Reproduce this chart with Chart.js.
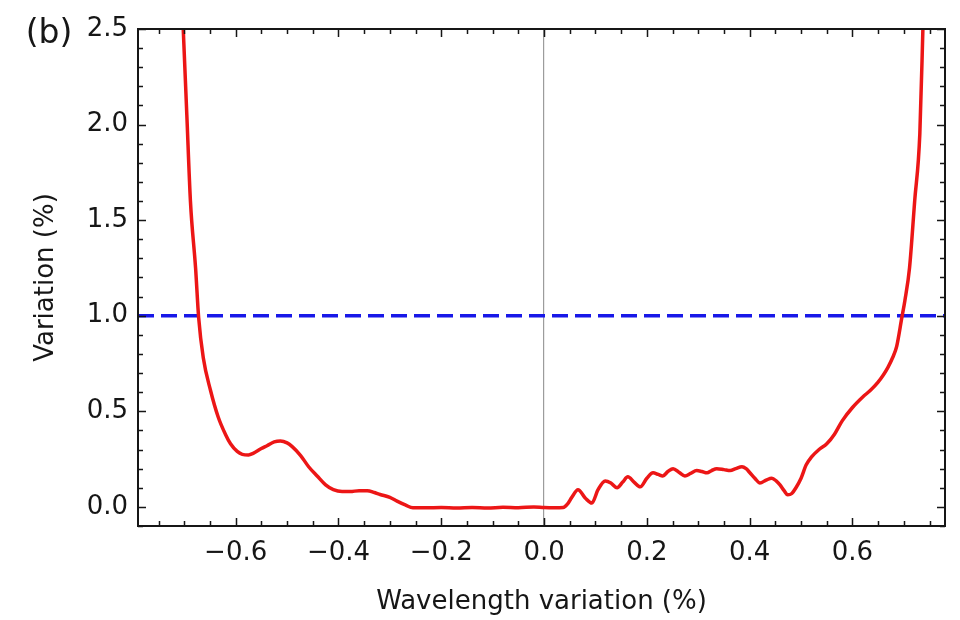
<!DOCTYPE html>
<html>
<head>
<meta charset="utf-8">
<script src="https://cdn.jsdelivr.net/npm/chart.js@4.4.1/dist/chart.umd.min.js"></script>
<style>
  html, body { margin: 0; padding: 0; background: #fff; }
  #wrap { width: 960px; height: 620px; position: relative; }
</style>
</head>
<body>
<div id="wrap"><canvas id="variationChart"></canvas></div>
<script>
// Panel (b): variation (%) against wavelength variation (%).

const waveX = [
  -0.710, -0.702, -0.695, -0.688, -0.678, -0.672, -0.663, -0.649, -0.634, -0.620,
  -0.610, -0.597, -0.587, -0.575, -0.566, -0.550, -0.539, -0.525, -0.513, -0.500,
  -0.490, -0.474, -0.458, -0.441, -0.425, -0.410, -0.393, -0.377, -0.360, -0.344,
  -0.330, -0.319, -0.300, -0.286, -0.270, -0.255, -0.230, -0.200, -0.170, -0.140,
  -0.110, -0.080, -0.050, -0.020, 0.000, 0.020, 0.037, 0.047, 0.054, 0.066,
  0.080, 0.093, 0.105, 0.119, 0.130, 0.142, 0.153, 0.163, 0.175, 0.187,
  0.200, 0.212, 0.222, 0.231, 0.241, 0.251, 0.263, 0.274, 0.285, 0.297,
  0.307, 0.317, 0.326, 0.336, 0.350, 0.362, 0.373, 0.385, 0.393, 0.400,
  0.410, 0.420, 0.432, 0.443, 0.452, 0.459, 0.467, 0.474, 0.482, 0.490,
  0.500, 0.510, 0.520, 0.535, 0.550, 0.565, 0.580, 0.600, 0.620, 0.635,
  0.649, 0.660, 0.669, 0.678, 0.686, 0.696, 0.702, 0.711, 0.721, 0.731,
  0.737, 0.742
];

const variationY = [
  3.00, 2.50, 2.05, 1.60, 1.25, 0.99, 0.78, 0.61, 0.47, 0.38,
  0.33, 0.29, 0.275, 0.272, 0.28, 0.305, 0.32, 0.34, 0.345, 0.335,
  0.315, 0.27, 0.21, 0.16, 0.115, 0.09, 0.08, 0.08, 0.085, 0.085,
  0.075, 0.065, 0.05, 0.03, 0.01, -0.005, -0.005, -0.003, -0.006, -0.003,
  -0.006, -0.002, -0.005, 0.000, -0.003, -0.004, -0.003, 0.02, 0.05, 0.09,
  0.047, 0.02, 0.09, 0.136, 0.125, 0.10, 0.13, 0.157, 0.13, 0.105,
  0.15, 0.178, 0.17, 0.162, 0.185, 0.20, 0.18, 0.162, 0.175, 0.19,
  0.185, 0.178, 0.19, 0.20, 0.195, 0.19, 0.20, 0.21, 0.20, 0.18,
  0.15, 0.125, 0.14, 0.15, 0.135, 0.115, 0.085, 0.063, 0.07, 0.10,
  0.15, 0.22, 0.26, 0.30, 0.33, 0.38, 0.45, 0.52, 0.575, 0.61,
  0.65, 0.69, 0.73, 0.78, 0.84, 0.99, 1.08, 1.25, 1.60, 1.95,
  2.50, 3.00
];

const thresholdY = 1.0;

const xTickValues = [-0.6, -0.4, -0.2, 0, 0.2, 0.4, 0.6];
const yTickValues = [0, 0.5, 1.0, 1.5, 2.0, 2.5];
const xRange = [-0.79, 0.78];
const yRange = [-0.1, 2.5];

const panelLabel = '(b)';
const xTitle = 'Wavelength variation (%)';
const yTitle = 'Variation (%)';

const FONT = "'DejaVu Sans', 'Liberation Sans', sans-serif";
const INK = '#161616';

function fmt(v) {
  const s = Number(v).toFixed(1);
  return s.charAt(0) === '-' ? '\u2212' + s.slice(1) : s;
}

// frame + inward ticks on all four sides, plus the panel letter
const frameTicks = {
  id: 'frameTicks',
  afterDatasetsDraw(chart) {
    const { ctx, chartArea: a, scales: { x, y } } = chart;
    ctx.save();
    ctx.strokeStyle = INK;
    ctx.lineWidth = 1.5;
    ctx.beginPath();
    for (let i = -16; i <= 16; i++) {
      const v = i * 0.05;
      if (v < xRange[0] || v > xRange[1]) continue;
      const px = Math.round(x.getPixelForValue(v)) + 0.5;
      const len = (i % 4 === 0) ? 8 : 5;
      ctx.moveTo(px, a.bottom); ctx.lineTo(px, a.bottom - len);
      ctx.moveTo(px, a.top); ctx.lineTo(px, a.top + len);
    }
    for (let i = -1; i <= 25; i++) {
      const v = i * 0.1;
      if (v < yRange[0] - 1e-9 || v > yRange[1] + 1e-9) continue;
      const py = Math.round(y.getPixelForValue(v)) + 0.5;
      const len = (i % 5 === 0) ? 8 : 5;
      ctx.moveTo(a.left, py); ctx.lineTo(a.left + len, py);
      ctx.moveTo(a.right, py); ctx.lineTo(a.right - len, py);
    }
    ctx.stroke();

    ctx.lineWidth = 2;
    ctx.strokeRect(a.left, a.top, a.right - a.left, a.bottom - a.top);
    ctx.restore();
  },
  afterDraw(chart) {
    const { ctx } = chart;
    ctx.save();
    ctx.fillStyle = INK;
    ctx.font = "33px " + FONT;
    ctx.textAlign = 'center';
    ctx.textBaseline = 'middle';
    ctx.fillText(panelLabel, 49, 34);
    ctx.restore();
  }
};

const ctx = document.getElementById('variationChart').getContext('2d');

new Chart(ctx, {
  type: 'line',
  data: {
    datasets: [
      {
        label: 'variation',
        data: waveX.map((v, i) => ({ x: v, y: variationY[i] })),
        borderColor: 'rgb(236, 22, 22)',
        borderWidth: 3.5,
        pointRadius: 0,
        cubicInterpolationMode: 'monotone',
        fill: false
      },
      {
        label: '1% level',
        data: [{ x: xRange[0], y: thresholdY }, { x: xRange[1], y: thresholdY }],
        borderColor: 'rgb(24, 24, 232)',
        borderWidth: 3.5,
        borderDash: [16, 7],
        pointRadius: 0,
        fill: false
      }
    ]
  },
  options: {
    responsive: true,
    maintainAspectRatio: false,
    devicePixelRatio: 1,
    animation: false,
    layout: { padding: { left: 0, right: 15, top: 29, bottom: 2 } },
    plugins: {
      legend: { display: false },
      tooltip: { enabled: false }
    },
    scales: {
      x: {
        type: 'linear',
        min: xRange[0],
        max: xRange[1],
        afterBuildTicks: s => { s.ticks = xTickValues.map(v => ({ value: v })); },
        afterFit: s => { s.height = 92; },
        border: { display: false },
        grid: {
          drawTicks: false,
          lineWidth: 1.2,
          color: c => (c.tick && c.tick.value === 0) ? '#9c9c9c' : 'rgba(0,0,0,0)'
        },
        ticks: {
          padding: 12,
          color: INK,
          font: { family: FONT, size: 26 },
          callback: v => fmt(v),
          maxRotation: 0,
          autoSkip: false
        },
        title: {
          display: true,
          text: xTitle,
          color: INK,
          font: { family: FONT, size: 26 },
          padding: { top: 0, bottom: 0 }
        }
      },
      y: {
        min: yRange[0],
        max: yRange[1],
        afterBuildTicks: s => { s.ticks = yTickValues.map(v => ({ value: v })); },
        afterFit: s => { s.width = 138; },
        border: { display: false },
        grid: { display: false, drawTicks: false },
        ticks: {
          padding: 10,
          color: INK,
          font: { family: FONT, size: 26 },
          callback: v => fmt(v),
          autoSkip: false
        },
        title: {
          display: true,
          text: yTitle,
          color: INK,
          font: { family: FONT, size: 26 },
          padding: { top: 31, bottom: 0 }
        }
      }
    }
  },
  plugins: [frameTicks]
});
</script>
</body>
</html>
